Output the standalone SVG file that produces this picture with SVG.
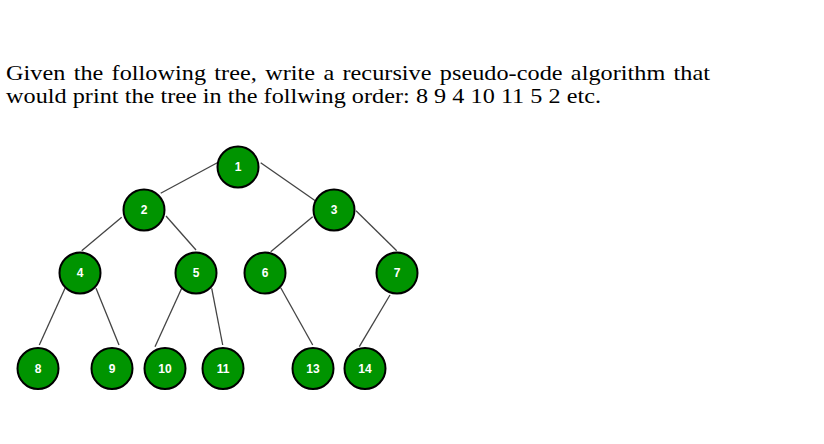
<svg xmlns="http://www.w3.org/2000/svg" width="824" height="444" viewBox="0 0 824 444">
<style>
.t{font-family:"Liberation Serif","Times New Roman",serif;font-size:22px;fill:#000}
.n circle{fill:#009400;stroke:#000;stroke-width:2}
.n text{font-family:"Liberation Sans",Arial,sans-serif;font-size:12px;font-weight:bold;fill:#fff;text-anchor:middle}
#edges line{stroke:#444;stroke-width:1.3}
</style>
<rect width="824" height="444" fill="#fff"/>
<text class="t" transform="translate(6,80) scale(1.1,1)" x="0" y="0" word-spacing="2" textLength="640" lengthAdjust="spacing">Given the following tree, write a recursive pseudo-code algorithm that</text>
<text class="t" transform="translate(6,103) scale(1.1,1)" x="0" y="0" textLength="541" lengthAdjust="spacing">would print the tree in the follwing order: 8 9 4 10 11 5 2 etc.</text>
<g id="edges">
<line x1="217.3" y1="162.7" x2="160.7" y2="193.3"/>
<line x1="260.7" y1="162.7" x2="316.7" y2="201.7"/>
<line x1="121.7" y1="217.3" x2="81.7" y2="250.7"/>
<line x1="166" y1="216" x2="196" y2="250"/>
<line x1="312.7" y1="216.7" x2="270.7" y2="251.7"/>
<line x1="356" y1="210.7" x2="396.7" y2="250.7"/>
<line x1="65" y1="288.3" x2="39.3" y2="345"/>
<line x1="96" y1="288.3" x2="119" y2="345"/>
<line x1="181.7" y1="288.3" x2="155" y2="346.7"/>
<line x1="211.7" y1="288.3" x2="222.7" y2="345"/>
<line x1="280.7" y1="287.7" x2="312.7" y2="345"/>
<line x1="390" y1="295" x2="359.3" y2="346.7"/>
</g>
<g id="node1" class="n"><circle cx="238" cy="167" r="20.5"/><text x="238" y="171">1</text></g>
<g id="node2" class="n"><circle cx="144" cy="210" r="20.5"/><text x="144" y="214">2</text></g>
<g id="node3" class="n"><circle cx="334" cy="210" r="20.5"/><text x="334" y="214">3</text></g>
<g id="node4" class="n"><circle cx="80" cy="273" r="20.5"/><text x="80" y="277">4</text></g>
<g id="node5" class="n"><circle cx="196" cy="273" r="20.5"/><text x="196" y="277">5</text></g>
<g id="node6" class="n"><circle cx="265" cy="273" r="20.5"/><text x="265" y="277">6</text></g>
<g id="node7" class="n"><circle cx="397" cy="273" r="20.5"/><text x="397" y="277">7</text></g>
<g id="node8" class="n"><circle cx="38" cy="368.5" r="20.5"/><text x="38" y="372.5">8</text></g>
<g id="node9" class="n"><circle cx="112" cy="368.5" r="20.5"/><text x="112" y="372.5">9</text></g>
<g id="node10" class="n"><circle cx="165" cy="368.5" r="20.5"/><text x="165" y="372.5">10</text></g>
<g id="node11" class="n"><circle cx="223" cy="368.5" r="20.5"/><text x="223" y="372.5">11</text></g>
<g id="node13" class="n"><circle cx="313" cy="368.5" r="20.5"/><text x="313" y="372.5">13</text></g>
<g id="node14" class="n"><circle cx="365" cy="368.5" r="20.5"/><text x="365" y="372.5">14</text></g>
</svg>
